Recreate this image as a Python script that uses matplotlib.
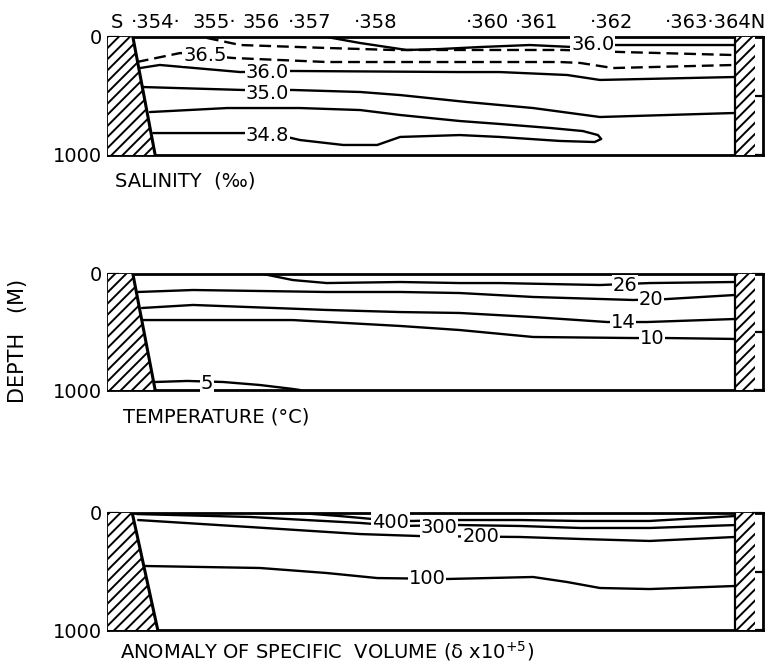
import matplotlib
matplotlib.use('Agg')
import matplotlib.pyplot as plt
from matplotlib.patches import Polygon, Rectangle

plt.rcParams['font.family'] = ['DejaVu Sans']
plt.rcParams['hatch.linewidth'] = 1.4

# stations along the section (distance, % of section length)
stations = ['S', '·354·', '355·', '356', '·357', '·358', '·360', '·361', '·362', '·363·364N']
station_x = [1.4, 7.3, 16.2, 23.4, 30.8, 40.8, 58.0, 65.5, 76.9, 92.8]

# continental slope (S side) and wall (N side)
slope_top = [3.8, 3.8, 3.7]
slope_bot = [7.2, 7.2, 7.6]
wall_x = 95.7
wall_w = 3.1

# salinity (per mille): distance, depth (m)
s360a_x = [33.4, 38.5, 45.6, 50.7, 56.8, 64.4, 71.0, 77.1, 95.7]
s360a_z = [0, 51, 110, 102, 85, 68, 85, 68, 68]
s365a_x = [15.1, 20.2, 33.4, 43.5, 56.8, 69.5, 78.2, 95.7]
s365a_z = [8, 68, 93, 110, 110, 110, 127, 153]
s365_x = [4.4, 11.0, 19.1, 33.4, 53.7, 69.0, 72.1, 77.1, 95.7]
s365_z = [212, 136, 178, 212, 212, 212, 220, 263, 237]
s360_x = [4.9, 7.9, 20.2, 28.2, 53.7, 59.8, 70.1, 75.1, 95.7]
s360_z = [263, 237, 297, 288, 297, 297, 322, 364, 339]
s350_x = [5.3, 20.6, 28.2, 38.5, 44.6, 54.8, 64.9, 75.1, 95.7]
s350_z = [424, 449, 449, 466, 492, 551, 602, 678, 644]
s348_x = [6.4, 18.2, 29.3, 38.5, 44.6, 53.7, 59.8, 67.5, 72.5, 74.8, 75.3, 74.3,
          69.0, 59.8, 53.7, 44.6, 41.1, 35.9, 29.3, 27.3, 21.2, 6.9]
s348_z = [636, 602, 602, 619, 661, 712, 737, 771, 797, 831, 864, 890,
          881, 847, 831, 847, 915, 915, 873, 847, 814, 814]
sal_labels = ['36.5', '36.0', '35.0', '34.8', '36.0']
sal_lab_x = [14.8, 24.3, 24.3, 24.3, 74.0]
sal_lab_z = [157, 301, 483, 835, 62]

# temperature (deg C)
t26_x = [23.7, 28.2, 33.4, 44.6, 53.7, 59.8, 75.1, 82.7, 95.7]
t26_z = [0, 52, 78, 69, 78, 78, 95, 78, 69]
t20_x = [4.6, 13.0, 33.4, 44.6, 53.7, 64.9, 80.2, 85.3, 95.7]
t20_z = [155, 138, 155, 155, 164, 198, 224, 216, 181]
t14_x = [5.2, 13.0, 33.4, 44.6, 53.7, 64.9, 76.2, 82.3, 95.7]
t14_z = [293, 267, 310, 328, 336, 371, 414, 414, 388]
t10_x = [5.3, 28.2, 44.6, 53.7, 64.9, 80.2, 85.3, 95.7]
t10_z = [397, 397, 448, 483, 543, 552, 552, 560]
t5_x = [7.2, 12.1, 17.6, 23.2, 28.2, 29.3]
t5_z = [931, 922, 931, 957, 991, 1000]
tem_labels = ['26', '20', '14', '10', '5']
tem_lab_x = [78.9, 82.9, 78.6, 83.1, 15.1]
tem_lab_z = [95, 224, 414, 552, 940]

# anomaly of specific volume
a400_x = [29.3, 35.4, 40.3, 46.4, 53.7, 62.9, 72.1, 82.7, 95.7]
a400_z = [0, 26, 51, 68, 60, 60, 68, 68, 26]
a300_x = [4.4, 21.7, 38.5, 44.6, 53.7, 62.9, 72.1, 82.7, 95.7]
a300_z = [9, 34, 85, 111, 103, 111, 128, 128, 103]
a200_x = [4.6, 21.7, 38.5, 47.6, 62.9, 72.1, 82.7, 95.7]
a200_z = [60, 120, 180, 197, 205, 222, 239, 205]
a100_x = [5.6, 23.2, 33.4, 41.1, 51.8, 64.9, 70.1, 75.1, 82.7, 95.7]
a100_z = [453, 470, 513, 556, 564, 547, 590, 641, 650, 624]
ano_labels = ['400', '300', '200', '100']
ano_lab_x = [43.1, 50.5, 56.9, 48.7]
ano_lab_z = [77, 128, 205, 564]

W, H = 772, 665
fig = plt.figure(figsize=(W / 100, H / 100), dpi=100)


def panel(top, bottom, k):
    ax = fig.add_axes([108 / W, 1 - bottom / H, 655 / W, (bottom - top) / H])
    ax.set_xlim(0, 100)
    ax.set_ylim(1000, 0)
    ax.set_xticks([])
    ax.set_yticks([0, 500, 1000])
    ax.set_yticklabels(['0', '', '1000'], fontsize=14)
    ax.tick_params(axis='y', direction='in', length=8, width=1.6, pad=4,
                   left=True, right=True)
    for sp in ax.spines.values():
        sp.set_linewidth(2)
    # hatched slope on the south side
    ax.add_patch(Polygon([(0, 0), (slope_top[k], 0), (slope_bot[k], 1000), (0, 1000)],
                         facecolor='white', edgecolor='black', hatch='///', lw=0, zorder=4))
    ax.plot([slope_top[k], slope_bot[k]], [0, 1000], color='black', lw=2.2, zorder=5)
    # hatched wall on the north side
    ax.add_patch(Rectangle((wall_x, 0), wall_w, 1000, facecolor='white',
                           edgecolor='black', hatch='///', lw=0, zorder=4))
    ax.axvline(wall_x, color='black', lw=1.6, zorder=5)
    return ax


def iso(ax, x, z, dashed=False):
    ls = (0, (5, 2.5)) if dashed else '-'
    ax.plot(x, z, color='black', lw=1.7, ls=ls, zorder=3, solid_capstyle='round')


def labels(ax, texts, xs, zs):
    for t, x, z in zip(texts, xs, zs):
        ax.text(x, z, t, ha='center', va='center', fontsize=14, zorder=6,
                bbox=dict(facecolor='white', edgecolor='none', pad=0.5))


ax1 = panel(37, 155, 0)
iso(ax1, s360a_x, s360a_z)
iso(ax1, s365a_x, s365a_z, dashed=True)
iso(ax1, s365_x, s365_z, dashed=True)
iso(ax1, s360_x, s360_z)
iso(ax1, s350_x, s350_z)
iso(ax1, s348_x, s348_z)
labels(ax1, sal_labels, sal_lab_x, sal_lab_z)
for s, x in zip(stations, station_x):
    ax1.text(x, -125, s, ha='center', va='center', fontsize=14, clip_on=False)

ax2 = panel(274, 390, 1)
for x, z in [(t26_x, t26_z), (t20_x, t20_z), (t14_x, t14_z), (t10_x, t10_z), (t5_x, t5_z)]:
    iso(ax2, x, z)
labels(ax2, tem_labels, tem_lab_x, tem_lab_z)

ax3 = panel(513, 630, 2)
for x, z in [(a400_x, a400_z), (a300_x, a300_z), (a200_x, a200_z), (a100_x, a100_z)]:
    iso(ax3, x, z)
labels(ax3, ano_labels, ano_lab_x, ano_lab_z)

fig.text(115 / W, 1 - 181 / H, 'SALINITY  (‰)', fontsize=14, va='center')
fig.text(123 / W, 1 - 417 / H, 'TEMPERATURE (°C)', fontsize=14, va='center')
fig.text(120 / W, 1 - 651 / H, 'ANOMALY OF SPECIFIC  VOLUME (δ x10$^{+5}$)',
         fontsize=14, va='center')
fig.text(18 / W, 1 - 341 / H, 'DEPTH   (M)', fontsize=15, rotation=90,
         ha='center', va='center')

fig.savefig('out.png', dpi=100)
